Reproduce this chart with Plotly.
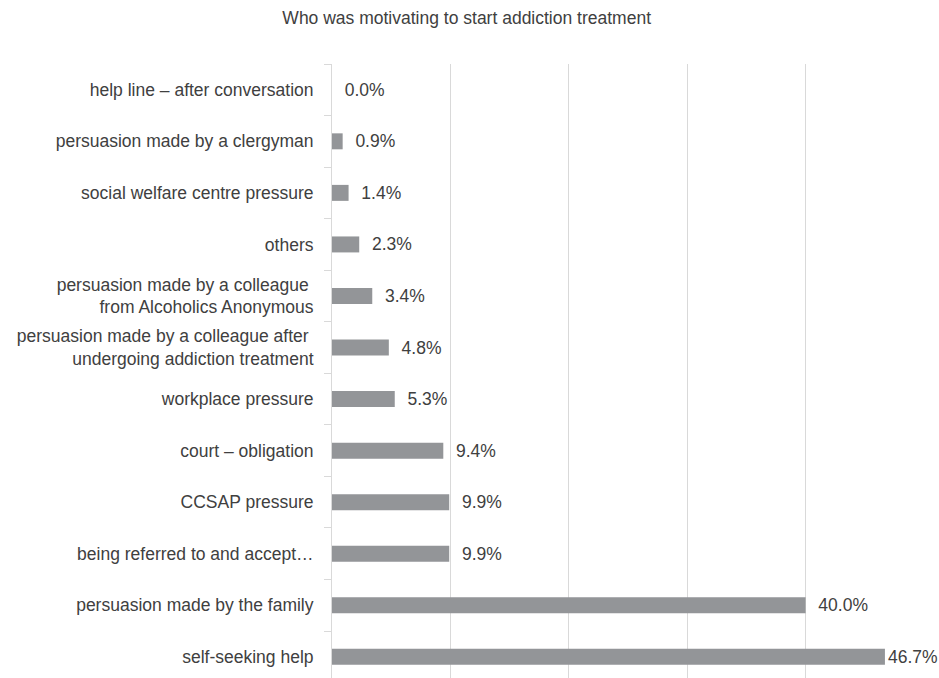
import plotly.graph_objects as go

categories = [
    "self-seeking help",
    "persuasion made by the family",
    "being referred to and accept…",
    "CCSAP pressure",
    "court – obligation",
    "workplace pressure",
    "persuasion made by a colleague after <br>undergoing addiction treatment",
    "persuasion made by a colleague <br>from Alcoholics Anonymous",
    "others",
    "social welfare centre pressure",
    "persuasion made by a clergyman",
    "help line – after conversation",
]
values = [46.7, 40.0, 9.9, 9.9, 9.4, 5.3, 4.8, 3.4, 2.3, 1.4, 0.9, 0.0]
title_text = "Who was motivating to start addiction treatment"

FONT = "Liberation Sans, Arial, sans-serif"
TXT = "#404040"

# label padding: the longest bar's label sits tight to the bar end
vmax = max(values)
templates = ["%{x:.1f}%" if v == vmax else "\u00a0\u00a0%{x:.1f}%" for v in values]

fig = go.Figure(go.Bar(
    x=values,
    y=categories,
    orientation="h",
    width=0.31,
    marker=dict(color="#939598", line=dict(width=0)),
    texttemplate=templates,
    textposition="outside",
    textfont=dict(family=FONT, size=17.5, color=TXT),
    constraintext="none",
    cliponaxis=False,
    hoverinfo="skip",
))

fig.update_layout(
    width=939,
    height=678,
    paper_bgcolor="white",
    plot_bgcolor="white",
    margin=dict(l=332, r=15, t=64, b=0, pad=0, autoexpand=False),
    showlegend=False,
    font=dict(family=FONT, size=17.5, color=TXT),
    title=dict(
        text=title_text,
        x=0.497,
        xanchor="center",
        y=1 - 18 / 678,
        yanchor="middle",
        yref="container",
        font=dict(family=FONT, size=17.5, color=TXT),
    ),
    xaxis=dict(
        range=[0, 50],
        dtick=10,
        showgrid=True,
        gridcolor="#d9d9d9",
        gridwidth=1,
        zeroline=False,
        showticklabels=False,
        showline=False,
        ticks="",
    ),
    yaxis=dict(
        type="category",
        categoryorder="array",
        categoryarray=categories,
        range=[-0.41, 11.5],
        showline=True,
        linecolor="#d9d9d9",
        linewidth=1,
        ticks="outside",
        tickson="boundaries",
        ticklen=7,
        tickcolor="#d9d9d9",
        tickwidth=1,
        ticklabelstandoff=14,
        showgrid=False,
        tickfont=dict(family=FONT, size=17.5, color=TXT),
    ),
)

fig.write_html(
    "out.html",
    config={"displayModeBar": False},
    post_script="document.body.style.margin='0px';document.body.style.overflow='hidden';",
)
